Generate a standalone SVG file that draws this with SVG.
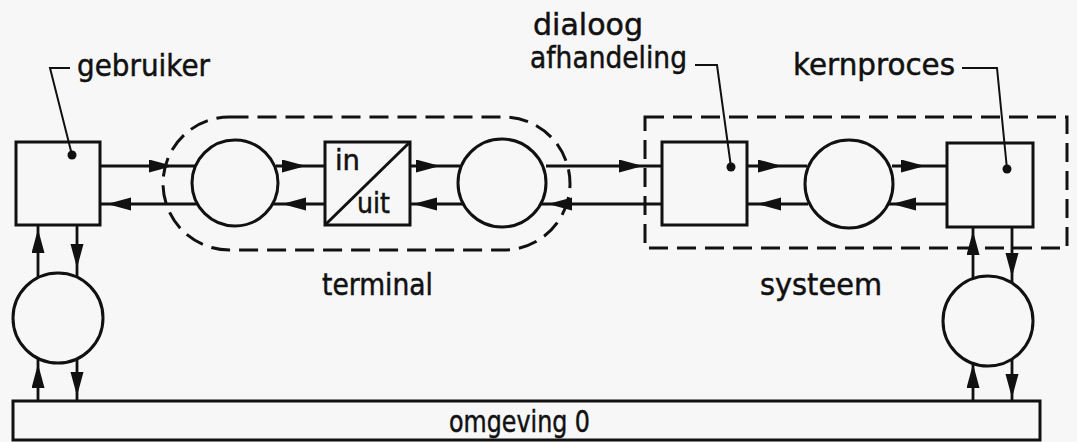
<svg xmlns="http://www.w3.org/2000/svg" width="1077" height="442" viewBox="0 0 1077 442">
<defs>
<style>
.box{fill:none;stroke:#111;stroke-width:3}
.dash{fill:none;stroke:#111;stroke-width:3;stroke-dasharray:19 9}
.ln{fill:none;stroke:#111;stroke-width:2.8;marker-mid:url(#ah)}
.lead{fill:none;stroke:#111;stroke-width:2}
.dot{fill:#111}
.t{font-family:"DejaVu Sans","Liberation Sans",sans-serif;font-size:30px;fill:#111;stroke:#111;stroke-width:0.5}
.s{font-family:"DejaVu Sans","Liberation Sans",sans-serif;font-size:28px;fill:#111;stroke:#111;stroke-width:0.5}
</style>
<marker id="ah" markerUnits="userSpaceOnUse" markerWidth="26" markerHeight="14" refX="24" refY="6.5" orient="auto">
<path d="M0,0 L24,6.5 L0,13 z" fill="#111"/>
</marker>
</defs>
<rect width="1077" height="442" fill="#f7f7f7"/>

<g id="connectors">
<path class="ln" d="M100,166 L173,166 L195,166"/>
<path class="ln" d="M198,204 L107,204 L100,204"/>
<path class="ln" d="M276,166 L306,166 L325,166"/>
<path class="ln" d="M325,204 L282,204 L272,204"/>
<path class="ln" d="M410,166 L440,166 L460,166"/>
<path class="ln" d="M464,204 L413,204 L410,204"/>
<path class="ln" d="M546,166 L643,166 L662,166"/>
<path class="ln" d="M662,204 L548,204 L541,204"/>
<path class="ln" d="M747,166 L782,166 L807,166"/>
<path class="ln" d="M808,204 L757,204 L747,204"/>
<path class="ln" d="M892,166 L925,166 L947,166"/>
<path class="ln" d="M947,204 L892,204 L888,204"/>
<path class="ln" d="M38,278 L38,229 L38,225"/>
<path class="ln" d="M77,225 L77,268 L77,277"/>
<path class="ln" d="M38,401 L38,364 L38,358"/>
<path class="ln" d="M77,359 L77,396 L77,401"/>
<path class="ln" d="M973,279 L973,231 L973,227"/>
<path class="ln" d="M1012,227 L1012,277 L1012,283"/>
<path class="ln" d="M973,401 L973,364 L973,363"/>
<path class="ln" d="M1012,359 L1012,398 L1012,401"/>
</g>

<g id="terminal">
<rect class="dash" x="163" y="117" width="407" height="133" rx="66.5"/>
<text class="t" x="322" y="295" textLength="111" lengthAdjust="spacingAndGlyphs">terminal</text>
</g>

<g id="systeem">
<rect class="dash" x="645" y="117" width="422" height="131"/>
<text class="t" x="760" y="295" textLength="122" lengthAdjust="spacingAndGlyphs">systeem</text>
</g>

<g id="gebruiker">
<rect class="box" x="16" y="142" width="84" height="83"/>
<circle class="dot" cx="72" cy="155" r="4.5"/>
<path class="lead" d="M70,68 L50,68 L72,155"/>
<text class="t" x="77" y="76" textLength="133" lengthAdjust="spacingAndGlyphs">gebruiker</text>
</g>

<g id="circle1"><circle class="box" cx="235" cy="183" r="43"/></g>

<g id="inuit">
<rect class="box" x="325" y="142" width="85" height="83"/>
<line class="box" x1="325" y1="225" x2="410" y2="142"/>
<text class="s" x="335" y="170" textLength="25" lengthAdjust="spacingAndGlyphs">in</text>
<text class="s" x="357" y="213" textLength="33" lengthAdjust="spacingAndGlyphs">uit</text>
</g>

<g id="circle2"><circle class="box" cx="502" cy="183" r="44"/></g>

<g id="dialoog">
<rect class="box" x="662" y="142" width="85" height="83"/>
<circle class="dot" cx="731" cy="167" r="4.5"/>
<path class="lead" d="M695,65 L717,65 L731,167"/>
<text class="t" x="533" y="35" textLength="110" lengthAdjust="spacingAndGlyphs">dialoog</text>
<text class="t" x="530" y="68" textLength="157" lengthAdjust="spacingAndGlyphs">afhandeling</text>
</g>

<g id="circle3"><circle class="box" cx="849" cy="184" r="44"/></g>

<g id="kernproces">
<rect class="box" x="947" y="143" width="86" height="84"/>
<circle class="dot" cx="1007" cy="169" r="4.5"/>
<path class="lead" d="M962,68 L997,68 L1007,169"/>
<text class="t" x="793" y="75" textLength="162" lengthAdjust="spacingAndGlyphs">kernproces</text>
</g>

<g id="circle4"><circle class="box" cx="988" cy="321" r="45"/></g>
<g id="circle5"><circle class="box" cx="58" cy="318" r="45"/></g>

<g id="omgeving">
<rect class="box" x="13" y="401" width="1027" height="39"/>
<text class="t" x="449" y="432" textLength="141" lengthAdjust="spacingAndGlyphs">omgeving 0</text>
</g>
</svg>
